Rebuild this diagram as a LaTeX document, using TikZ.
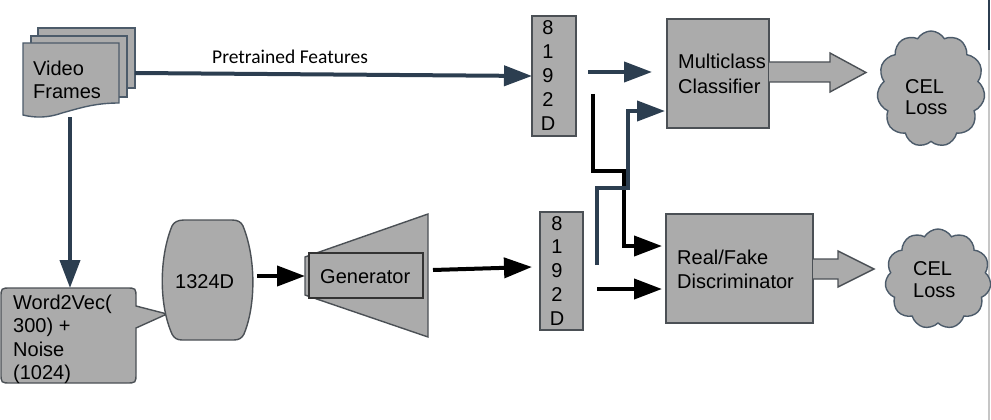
\documentclass[tikz,border=0pt]{standalone}
\usepackage{fontspec}
\setmainfont{Liberation Sans}
\newfontfamily\carlito{Carlito}
\usetikzlibrary{arrows.meta,shapes.symbols}
\definecolor{slate}{RGB}{44,62,80}
\definecolor{boxfill}{RGB}{171,171,171}
\definecolor{boxline}{RGB}{75,80,85}
\tikzset{
  blk/.style={fill=boxfill, draw=boxline, line width=1.4pt},
  docshape/.style={fill=boxfill, draw=slate!85, line width=1.4pt},
  sarrow/.style={draw=slate, line width=4pt, -{Triangle[length=28pt,width=20pt]}},
  karrow/.style={draw=black, line width=4pt, -{Triangle[length=28pt,width=20pt]}},
  sline/.style={draw=slate, line width=4pt},
  kline/.style={draw=black, line width=4pt},
  txt/.style={font=\fontsize{20}{23}\selectfont, inner sep=0pt, anchor=base west},
  digit/.style={font=\fontsize{20}{23}\selectfont, inner sep=0pt, anchor=base},
  boxnode/.style={blk, inner sep=0pt, outer sep=0pt, anchor=north west},
  lossc/.style={cloud, cloud puffs=11, cloud puff arc=120, fill=boxfill, draw=slate!85, line width=1.4pt, inner sep=0pt}
}
\begin{document}
\begin{tikzpicture}[x=1pt,y=-1pt]
\useasboundingbox (0,0) rectangle (991,420);
% right border line
\draw[gray!45, line width=2pt] (989,0) -- (989,420);
\draw[slate, line width=2.5pt] (989,0) -- (989,50);

% video frames (stacked documents)
\draw[docshape] (38,28) rectangle (135,88);
\draw[docshape] (31,36) rectangle (127,97);
\draw[docshape] (23,43) -- (119,43) -- (119,103) .. controls (95,103) and (80,108) .. (62,113) .. controls (48,118) and (35,118) .. (23,115) -- cycle;
\node[txt] (vft1) at (33,75) {Video};
\node[txt] (vft2) at (33,99) {Frames};
\coordinate (vfr) at (135,73);
\coordinate (vfb) at (70,117);

% feature boxes
\node[boxnode, minimum width=44pt, minimum height=120pt] (fa) at (532,16) {};
\foreach \c [count=\i] in {8,1,9,2,D} \node[digit] (fa\i) at (548,{35+23.75*(\i-1)}) {\c};
\node[boxnode, minimum width=43pt, minimum height=118pt] (fb) at (540,212) {};
\foreach \c [count=\i] in {8,1,9,2,D} \node[digit] (fb\i) at (557,{230+23.75*(\i-1)}) {\c};

% classifier and discriminator
\node[boxnode, minimum width=102pt, minimum height=109pt] (cls) at (667,19) {};
\node[txt] (cls1) at (678,69) {Multiclass};
\node[txt] (cls2) at (678,93) {Classifier};
\node[boxnode, minimum width=147pt, minimum height=109pt] (dis) at (666,214) {};
\node[txt] (dis1) at (677,264) {Real/Fake};
\node[txt] (dis2) at (677,288) {Discriminator};

% block arrows
\draw[blk] (cls.east |- 0,62) -- (830,62) -- (830,53) -- (866,72.5) -- (830,92) -- (830,82) -- (cls.east |- 0,82);
\draw[blk] (dis.east |- 0,259) -- (838,259) -- (838,251) -- (874,269) -- (838,287) -- (838,279) -- (dis.east |- 0,279);

% clouds
\node[lossc, minimum width=108pt, minimum height=116pt] (loss1) at (931,89) {};
\node[txt] (l1a) at (905,93) {CEL};
\node[txt] (l1b) at (905,114) {Loss};
\node[lossc, minimum width=106pt, minimum height=100pt] (loss2) at (938,279) {};
\node[txt] (l2a) at (913,275) {CEL};
\node[txt] (l2b) at (913,297) {Loss};

% word2vec callout
\draw[blk] (11,288) -- (126,288) .. controls (136,288) .. (136,298) -- (136,306) -- (167,314) -- (136,328) -- (136,373) .. controls (136,383) .. (126,383) -- (11,383) .. controls (1,383) .. (1,373) -- (1,298) .. controls (1,288) .. (11,288) -- cycle;
\coordinate (w2v) at (70,288);
\node[txt] (w1) at (13,309) {Word2Vec(};
\node[txt] (w2) at (13,332.5) {300) +};
\node[txt] (w3) at (13,356) {Noise};
\node[txt] (w4) at (13,379.5) {(1024)};

% 1324D
\draw[blk] (184,220) -- (232,220) .. controls (238,220) and (241,222) .. (243,226) .. controls (256,258) and (256,305) .. (244,334) .. controls (242,338) and (239,340) .. (234,340) -- (182,340) .. controls (177,340) and (174,338) .. (172,334) .. controls (159,305) and (159,258) .. (172,226) .. controls (174,222) and (178,220) .. (184,220) -- cycle;
\node[txt] (dim) at (175,288) {1324D};
\coordinate (dimo) at (257,276);

% generator
\draw[blk] (305,257) -- (428,214) -- (428,337) -- (305,295) -- cycle;
\draw[fill=boxfill, draw=black!80, line width=1.4pt] (309,253) rectangle (423,298);
\node[txt] (gen) at (320,283) {Generator};
\coordinate (geni) at (305,276);
\coordinate (geno) at (433,270);
\coordinate (fbi) at (532,267);

% connectors
\draw[sarrow] (vfr) -- (fa.west);
\node[inner sep=0pt, anchor=base west, font=\carlito\fontsize{19.5}{23}\selectfont] (pf) at (212,64) {Pretrained Features};
\draw[sarrow] (vfb) -- (w2v);
\draw[karrow] (dimo) -- (geni);
\draw[karrow] (geno) -- (fbi);

\coordinate (fao) at (588,72);
\coordinate (clsi) at (652,72);
\draw[sarrow] (fao) -- (clsi);

\coordinate (ks) at (593,94);
\coordinate (ke) at (662,246);
\draw[kline, -{Triangle[length=28pt,width=20pt]}] (ks) -- (593,171) -- (624,171) -- (624,246) -- (ke);

\coordinate (bs) at (597,265);
\coordinate (be) at (665,111);
\draw[sline, -{Triangle[length=28pt,width=20pt]}] (bs) -- (597,188) -- (628,188) -- (628,111) -- (be);

\coordinate (fbo) at (597,289);
\coordinate (disi) at (662,289);
\draw[karrow] (fbo) -- (disi);
\end{tikzpicture}
\end{document}
